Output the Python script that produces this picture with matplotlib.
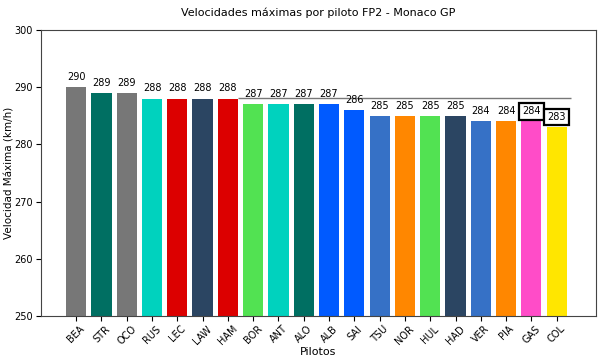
import matplotlib
matplotlib.use("Agg")
import matplotlib.pyplot as plt

pilotos = ["BEA", "STR", "OCO", "RUS", "LEC", "LAW", "HAM", "BOR", "ANT", "ALO",
           "ALB", "SAI", "TSU", "NOR", "HUL", "HAD", "VER", "PIA", "GAS", "COL"]
velocidades = [290, 289, 289, 288, 288, 288, 288, 287, 287, 287,
               287, 286, 285, 285, 285, 285, 284, 284, 284, 283]
colores = ["#777777", "#006F62", "#777777", "#00D2BE", "#DC0000", "#2B4562", "#DC0000",
           "#52E252", "#00D2BE", "#006F62", "#005AFF", "#005AFF", "#3671C6", "#FF8700",
           "#52E252", "#2B4562", "#3671C6", "#FF8700", "#FF4CC8", "#FFE600"]
destacados = ["GAS", "COL"]

fig, ax = plt.subplots(figsize=(6, 3.6), dpi=100)
fig.subplots_adjust(left=0.068, right=0.993, top=0.917, bottom=0.122)

x = list(range(len(pilotos)))
bars = ax.bar(x, velocidades, color=colores, width=0.8, zorder=2)

ax.hlines(288.15, 6.4, 19.55, color="#777777", lw=1, zorder=1)

for xi, p, v in zip(x, pilotos, velocidades):
    if p in destacados:
        ax.text(xi, v + 0.9, str(v), ha="center", va="bottom", fontsize=7,
                bbox=dict(boxstyle="square,pad=0.35", fc="white", ec="black", lw=1.6), zorder=3)
    else:
        ax.text(xi, v + 0.9, str(v), ha="center", va="bottom", fontsize=7, zorder=3)

for s in ax.spines.values():
    s.set_color("#444444")

ax.set_ylim(250, 300)
ax.set_yticks([250, 260, 270, 280, 290, 300])
ax.set_xticks(x)
ax.set_xticklabels(pilotos, rotation=45, fontsize=7)
ax.tick_params(axis="y", labelsize=7, pad=2)
ax.tick_params(axis="x", pad=2)
ax.set_xlabel("Pilotos", fontsize=8, labelpad=0)
ax.set_ylabel("Velocidad Máxima (km/h)", fontsize=7.5)
ax.yaxis.set_label_coords(-0.047, 0.5)
ax.set_title("Velocidades máximas por piloto FP2 - Monaco GP", fontsize=8, pad=10)

fig.savefig("out.png", dpi=100)
